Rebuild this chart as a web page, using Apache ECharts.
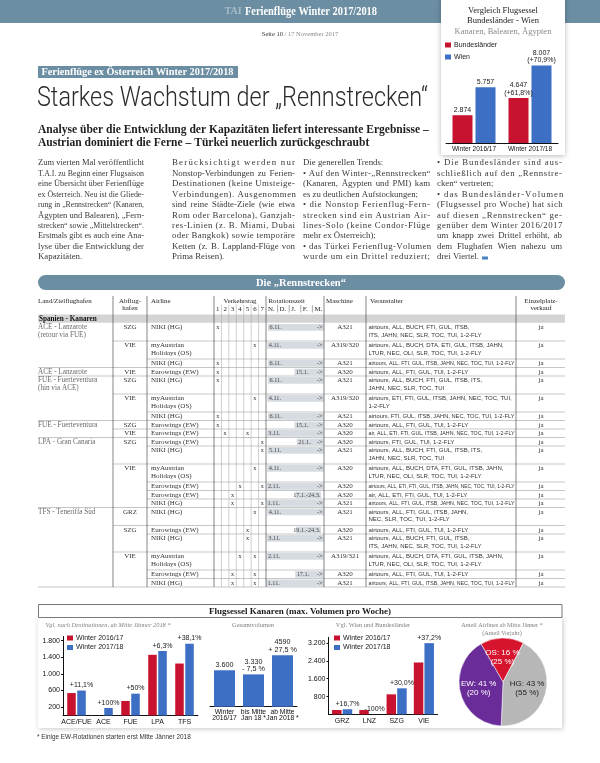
<!DOCTYPE html>
<html><head><meta charset="utf-8">
<script src="https://cdn.jsdelivr.net/npm/echarts@6/dist/echarts.min.js"></script>
<style>html,body{margin:0;padding:0;background:#fff}#c{width:600px;height:763px}</style>
</head><body><div id="c"></div>
<script>
// ================= DATA =================
const headerTitle = 'Ferienflüge Winter 2017/2018';
const headerLogo = 'TAI';
const pageInfo = ['Seite 10', ' / 17 November 2017'];
const kicker = 'Ferienflüge ex Österreich Winter 2017/2018';
const headline = 'Starkes Wachstum der \u201ERennstrecken\u201C';
const subline = ['Analyse über die Entwicklung der Kapazitäten liefert interessante Ergebnisse \u2013',
                 'Austrian dominiert die Ferne \u2013 Türkei neuerlich zurückgeschraubt'];

const col1 = ['Zum vierten Mal veröffentlicht','T.A.I. zu Beginn einer Flugsaison','eine Übersicht über Ferienflüge','ex Österreich. Neu ist die Gliede-','rung in \u201ERennstrecken\u201C (Kanaren,','Ägypten und Balearen), \u201EFern-','strecken\u201C sowie \u201EMittelstrecken\u201C.','Erstmals gibt es auch eine Ana-','lyse über die Entwicklung der','Kapazitäten.'];
const col2 = ['Berücksichtigt werden nur','Nonstop-Verbindungen zu Ferien-','Destinationen (keine Umsteige-','Verbindungen). Ausgenommen','sind reine Städte-Ziele (wie etwa','Rom oder Barcelona), Ganzjah-','res-Linien (z. B. Miami, Dubai','oder Bangkok) sowie temporäre','Ketten (z. B. Lappland-Flüge von','Prima Reisen).'];
const col3 = ['Die generellen Trends:','\u2022 Auf den Winter-\u201ERennstrecken\u201C','(Kanaren, Ägypten und PMI) kam','es zu deutlichen Aufstockungen;','\u2022 die Nonstop Ferienflug-Fern-','strecken sind ein Austrian Air-','lines-Solo (keine Condor-Flüge','mehr ex Österreich);','\u2022 das Türkei Ferienflug-Volumen','wurde um ein Drittel reduziert;'];
const col4 = ['\u2022 Die Bundesländer sind aus-','schließlich auf den \u201ERennstre-','cken\u201C vertreten;','\u2022 das Bundesländer-Volumen','(Flugsessel pro Woche) hat sich','auf diesen \u201ERennstrecken\u201C ge-','genüber dem Winter 2016/2017','um knapp zwei Drittel erhöht, ab','dem Flughafen Wien nahezu um','drei Viertel.'];
const colLast = [[9],[9],[0,3,7],[2,9]];

// top-right comparison chart
const cmpTitle = ['Vergleich Flugsessel', 'Bundesländer - Wien'];
const cmpSubtitle = 'Kanaren, Balearen, Ägypten';
const cmpCategories = ['Winter 2016/17', 'Winter 2017/18'];
const cmpBundeslaender = [2874, 4647];
const cmpWien = [5757, 8007];
const cmpBundesLabels = ['2.874', '4.647\n(+61,8%)'];
const cmpWienLabels = ['5.757', '8.007\n(+70,9%)'];

// table
const tableBanner = 'Die \u201ERennstrecken\u201C';
const tableColumns = ['Land/Zielflughafen', 'Abflug-\nhafen', 'Airline', 'Verkehrstag', 'Rotationszeit', 'Maschine', 'Veranstalter', 'Einzelplatz-\nverkauf'];
const tableDays = ['1','2','3','4','5','6','7'];
const tableMonths = ['N.','D.','J.','F.','M.'];
const tableSection = 'Spanien - Kanaren';
// [land, abflug, airline, days, start, end, maschine, veranstalter, einzelplatz]
const tableRows = [
 ['ACE - Lanzarote\n(retour via FUE)','SZG','NIKI (HG)',[1],'6.11.','','A321','airtours, ALL, BUCH, FTI, GUL, ITSB,\nITS, JAHN, NEC, SLR, TOC, TUI, 1-2-FLY','ja'],
 ['','VIE','myAustrian\nHolidays (OS)',[6],'4.11.','','A319/320','airtours, ALL, BUCH, DTA, ETI, GUL, ITSB, JAHN,\nLTUR, NEC, OLI, SLR, TOC, TUI, 1-2-FLY','ja'],
 ['','','NIKI (HG)',[1],'6.11.','','A321','airtours, ALL, FTI, GUL, ITSB, JAHN, NEC, TOC, TUI, 1-2-FLY','ja'],
 ['ACE - Lanzarote','VIE','Eurowings (EW)',[1],'15.1.','','A320','airtours, ALL, FTI, GUL, TUI, 1-2-FLY','ja'],
 ['FUE - Fuerteventura\n(hin via ACE)','SZG','NIKI (HG)',[1],'6.11.','','A321','airtours, ALL, BUCH, FTI, GUL, ITSB, ITS,\nJAHN, NEC, SLR, TOC, TUI','ja'],
 ['','VIE','myAustrian\nHolidays (OS)',[6],'4.11.','','A319/320','airtours, ETI, FTI, GUL, ITSB, JAHN, NEC, TOC, TUI,\n1-2-FLY','ja'],
 ['','','NIKI (HG)',[1],'6.11.','','A321','airtours, FTI, GUL, ITSB, JAHN, NEC, TOC, TUI, 1-2-FLY','ja'],
 ['FUE - Fuerteventura','SZG','Eurowings (EW)',[1],'15.1.','','A320','airtours, ALL, FTI, GUL, TUI, 1-2-FLY','ja'],
 ['','VIE','Eurowings (EW)',[2,5],'3.11.','','A320','air, ALL, ETI, FTI, GUL, ITSB, JAHN, NEC, TOC, TUI, 1-2-FLY','ja'],
 ['LPA - Gran Canaria','SZG','Eurowings (EW)',[7],'21.1.','','A320','airtours, FTI, GUL, TUI, 1-2-FLY','ja'],
 ['','','NIKI (HG)',[7],'5.11.','','A321','airtours, ALL, BUCH, FTI, GUL, ITSB, ITS,\nJAHN, NEC, SLR, TOC, TUI','ja'],
 ['','VIE','myAustrian\nHolidays (OS)',[6],'4.11.','','A320','airtours, ALL, BUCH, DTA, FTI, GUL, ITSB, JAHN,\nLTUR, NEC, OLI, SLR, TOC, TUI, 1-2-FLY','ja'],
 ['','','Eurowings (EW)',[4,7],'2.11.','','A320','airtours, ALL, ETI, FTI, GUL, ITSB, JAHN, NEC, TOC, TUI, 1-2-FLY','ja'],
 ['','','Eurowings (EW)',[3],'17.1.','24.3.','A320','air, ALL, ETI, FTI, GUL, TUI, 1-2-FLY','ja'],
 ['','','NIKI (HG)',[3,7],'1.11.','','A321','airtours, ALL, FTI, GUL, ITSB, JAHN, NEC, TOC, TUI, 1-2-FLY','ja'],
 ['TFS - Teneriffa Süd','GRZ','NIKI (HG)',[6],'4.11.','','A321','airtours, ALL, FTI, GUL, ITSB, JAHN,\nNEC, SLR, TOC, TUI, 1-2-FLY','ja'],
 ['','SZG','Eurowings (EW)',[5],'19.1.','24.3.','A320','airtours, ALL, FTI, GUL, TUI, 1-2-FLY','ja'],
 ['','','NIKI (HG)',[5],'3.11.','','A321','airtours, ALL, BUCH, FTI, GUL, ITSB,\nITS, JAHN, NEC, SLR, TOC, TUI, 1-2-FLY','ja'],
 ['','VIE','myAustrian\nHolidays (OS)',[4,6],'2.11.','','A319/321','airtours, ALL, BUCH, DTA, FTI, GUL, ITSB, JAHN,\nLTUR, NEC, OLI, SLR, TOC, TUI, 1-2-FLY','ja'],
 ['','','Eurowings (EW)',[3,6],'17.1.','','A320','airtours, ALL, FTI, GUL, TUI, 1-2-FLY','ja'],
 ['','','NIKI (HG)',[3,6],'1.11.','','A321','airtours, ALL, FTI, GUL, ITSB, JAHN, NEC, TOC, TUI, 1-2-FLY','ja']
];

// bottom charts
const bottomTitle = 'Flugsessel Kanaren (max. Volumen pro Woche)';
const footnote = '* Einige EW-Rotationen starten erst Mitte Jänner 2018';
const seriesNames = ['Winter 2016/17', 'Winter 2017/18'];

const destTitle = 'Vgl. nach Destinationen, ab Mitte Jänner 2018 *';
const destCategories = ['ACE/FUE', 'ACE', 'FUE', 'LPA', 'TFS'];
const dest1617 = [540, null, 350, 1460, 1250];
const dest1718 = [600, 180, 525, 1552, 1726];
const destChange = ['+11,1%', '+100%', '+50%', '+6,3%', '+38,1%'];
const destTicks = [200, 600, 1000, 1400, 1800];

const totalTitle = 'Gesamtvolumen';
const totalCategories = ['Winter\n2016/17', 'bis Mitte\nJan 18 *', 'ab Mitte\nJan 2018 *'];
const totalValues = [3600, 3330, 4590];
const totalLabels = ['3.600', '3.330\n- 7,5 %', '4590\n+ 27,5 %'];

const airportTitle = 'Vgl. Wien und Bundesländer';
const airportCategories = ['GRZ', 'LNZ', 'SZG', 'VIE'];
const airport1617 = [198, 195, 900, 2330];
const airport1718 = [231, 0, 1170, 3197];
const airportChange = ['+16,7%', '-100%', '+30,0%', '+37,2%'];
const airportTicks = [800, 1600, 2400, 3200];

const airlineTitle = ['Anteil Airlines ab Mitte Jänner *', '(Anteil Vorjahr)'];
const airlineNames = ['OS', 'HG', 'EW'];
const airlineShare = [16, 43, 41];
const airlinePrev = [25, 55, 20];

// ================= HELPERS =================
const ctx = document.createElement('canvas').getContext('2d');
function mw(t, f) { ctx.font = f; return ctx.measureText(t).width; }
function hasFont(n) {
  const s = 'abcdefghijklmnopqrstuvwxyzABCDEFGHIJ0123456789';
  return mw(s, '20px monospace') !== mw(s, '20px "' + n + '", monospace') ||
         mw(s, '20px serif') !== mw(s, '20px "' + n + '", serif');
}
const SERIF = '"Liberation Serif", "DejaVu Serif", serif';
const SANS = '"Liberation Sans", Arial, sans-serif';
const COND = hasFont('Liberation Sans Narrow') ? '"Liberation Sans Narrow", "Liberation Sans", sans-serif' : SANS;
const LIGHT = hasFont('Roboto') ? 'Roboto, ' + SANS : SANS;
function fit(t, weight, fam, target) { return 20 * target / mw(t, weight + ' 20px ' + fam); }
const fmtDE = v => String(v).replace(/\B(?=(\d{3})+(?!\d))/g, '.');

const STEEL = '#6c8ea3', RED = '#c7132f', BLUE = '#3d6fc4';
const G = [];
function T(x, y, text, font, fill, align, va, z, sx) {
  const el = { type: 'text', x: x, y: y, z: z == null ? 20 : z, silent: true,
    style: { text: text, font: font, fill: fill, textAlign: align || 'left', textVerticalAlign: va || 'middle' } };
  if (sx) el.scaleX = sx;
  G.push(el);
}
function R(x, y, w, h, style, z, r) {
  G.push({ type: 'rect', z: z == null ? 1 : z, silent: true, shape: { x: x, y: y, width: w, height: h, r: r || 0 }, style: style });
}
function L(x1, y1, x2, y2, stroke, lw, z) {
  G.push({ type: 'line', z: z == null ? 5 : z, silent: true, shape: { x1: x1, y1: y1, x2: x2, y2: y2 }, style: { stroke: stroke, lineWidth: lw || 0.5 } });
}
function TW(x, y, text, font, fill, width) { T(x, y, text, font, fill, 'left', 'middle', 20, width / mw(text, font)); }
function TM(x, y, text, font, fill, maxW) { const w = mw(text, font); T(x, y, text, font, fill, 'left', 'middle', 20, w > maxW ? maxW / w : null); }

// ================= PAGE HEADER =================
R(0, 0, 600, 23, { fill: STEEL }, 0);
T(233, 11.5, headerLogo, 'bold 10px ' + SERIF, 'rgba(255,255,255,0.4)', 'center');
{
  TW(245, 11.8, headerTitle, 'bold 12.5px ' + SERIF, '#fff', 132);
  const f1 = '6.5px ' + SERIF;
  const w1 = mw(pageInfo[0], f1), w2 = mw(pageInfo[1], f1);
  const sx = 300 - (w1 + w2) / 2;
  T(sx, 34, pageInfo[0], f1, '#333');
  T(sx + w1, 34, pageInfo[1], f1, '#888');
}

// top-right box
R(441, -3, 124, 158, { fill: '#fff', shadowBlur: 5, shadowColor: 'rgba(0,0,0,0.28)', shadowOffsetY: 1 }, 1);
T(503, 11, cmpTitle[0], '8.5px ' + SERIF, '#222', 'center');
T(503, 21, cmpTitle[1], '8.5px ' + SERIF, '#222', 'center');
T(503, 32, cmpSubtitle, '8.5px ' + SERIF, '#8a8a8a', 'center');

// kicker + headline + subline
{
  R(38, 66, 200, 12, { fill: STEEL }, 1);
  TW(41.5, 72.3, kicker, 'bold 9.5px ' + SERIF, '#fff', 192);
  TW(37, 99, headline, '300 27px ' + LIGHT, '#2b2b2b', 391);
  const fsub = fit(subline[0], 'bold', SERIF, 391);
  T(38, 130, subline[0], 'bold ' + fsub.toFixed(2) + 'px ' + SERIF, '#1e1e1e');
  T(38, 143, subline[1], 'bold ' + fsub.toFixed(2) + 'px ' + SERIF, '#1e1e1e');
}

// article columns (justified; loose lines get letter spacing, tight lines are squeezed)
{
  const cols = [col1, col2, col3, col4];
  const cx = [38, 172, 303, 437];
  const cw = [106, 123, 127, 125];
  const font = '8.8px ' + SERIF;
  const spaceW = mw(' ', font);
  const C = '#3a3a3a';
  cols.forEach((c, ci) => {
    c.forEach((ln, i) => {
      const y = 163 + i * 10.45;
      const W = mw(ln, font);
      const words = ln.split(' ');
      const last = colLast[ci].includes(i);
      if (W > cw[ci]) {
        if (last) TM(cx[ci], y, ln, font, C, cw[ci]); else TW(cx[ci], y, ln, font, C, cw[ci]);
        return;
      }
      if (last || words.length < 2) { T(cx[ci], y, ln, font, C); return; }
      const ws = words.map(w => mw(w, font));
      const tot = ws.reduce((a, b) => a + b, 0);
      let gap = (cw[ci] - tot) / (words.length - 1);
      if (gap > 2.2 * spaceW) {
        // spread the extra room over letters too
        const chars = Array.from(ln);
        const extra = cw[ci] - W;
        const ls = extra / (chars.length - 1);
        let x = cx[ci];
        chars.forEach(ch => { if (ch !== ' ') T(x, y, ch, font, C); x += mw(ch, font) + ls; });
        return;
      }
      let x = cx[ci];
      words.forEach((w, j) => { T(x, y, w, font, C); x += ws[j] + gap; });
    });
  });
  const endW = Math.min(mw(col4[9], font), 125);
  R(437 + endW + 3, 256.5, 6, 3, { fill: '#4a7fc0' }, 2);
}

// ================= TABLE =================
const CX = { land: 38, abflug: 113, airline: 147, days: 214, rot: 266, masch: 324, veran: 366, einz: 516, right: 565 };
const dayW = (CX.rot - CX.days) / 7;
const monW = (CX.masch - CX.rot) / 5;
function dateX(s) {
  const p = s.split('.').map(Number);
  const idx = { 11: 0, 12: 1, 1: 2, 2: 3, 3: 4 }[p[1]];
  const dim = [30, 31, 31, 28, 31][idx];
  return CX.rot + (idx + (p[0] - 1) / dim) * monW;
}
R(38, 275, 527, 15, { fill: STEEL }, 1, 7.5);
T(301, 282.8, tableBanner, 'bold 10.5px ' + SERIF, '#fff', 'center');
{
  const hf = '6.9px ' + SERIF, hc = '#1e1e1e';
  const twoLine = (x, t, al) => { const p = t.split('\n'); T(x, 301, p[0], hf, hc, al); if (p[1]) T(x, 308, p[1], hf, hc, al); };
  twoLine(38, tableColumns[0], 'left');
  twoLine(130, tableColumns[1], 'center');
  twoLine(151, tableColumns[2], 'left');
  twoLine(240, tableColumns[3], 'center');
  twoLine(268.5, tableColumns[4], 'left');
  twoLine(326, tableColumns[5], 'left');
  twoLine(370, tableColumns[6], 'left');
  twoLine(541, tableColumns[7], 'center');
  tableDays.forEach((d, k) => T(CX.days + dayW * (k + 0.5), 308.8, d, hf, hc, 'center'));
  tableMonths.forEach((m, k) => T(CX.rot + monW * k + 2, 308.8, m, hf, hc));
  for (let k = 1; k < 5; k++) L(CX.rot + monW * k, 305, CX.rot + monW * k, 312.5, '#555', 0.5);
}
R(38, 314.5, 527, 8.2, { fill: '#d4d4d4' }, 1);
T(39, 318.7, tableSection, 'bold 7.2px ' + SERIF, '#111');
{
  const f = '7px ' + SERIF;
  const vfs = 10 * 101 / mw('airtours, ALL, BUCH, FTI, GUL, ITSB,', '10px ' + COND);
  const vf = vfs.toFixed(2) + 'px ' + COND;
  let y = 323;
  tableRows.forEach((r, i) => {
    const land = r[0], abflug = r[1], airline = r[2], days = r[3], start = r[4], end = r[5], masch = r[6], veran = r[7], einz = r[8];
    const n = Math.max(land.split('\n').length, airline.split('\n').length, veran.split('\n').length);
    const h = n > 1 ? 18 : 8.5;
    const ly = [y + 4.4, y + 12];
    land.split('\n').forEach((t, k) => TM(38, ly[k], t, '7.2px ' + SERIF, '#6a6a6a', 73));
    if (abflug) T(130, ly[0], abflug, f, '#333', 'center');
    airline.split('\n').forEach((t, k) => TM(151, ly[k], t, f, '#333', 61));
    days.forEach(d => T(CX.days + dayW * (d - 0.5), ly[0], 'x', '6.2px ' + SERIF, '#333', 'center'));
    const bx = dateX(start), ex = end ? dateX(end) : CX.masch;
    R(bx, y + 1.1, ex - bx, 6.6, { fill: '#d5dbe1' }, 2);
    if (end) {
      T(ex - 0.5, ly[0], start + '-' + end, '6.3px ' + SERIF, '#444', 'right');
    } else {
      T(bx + 1.5, ly[0], start, '6.3px ' + SERIF, '#444');
      T(CX.masch - 1.5, ly[0], '->', '6.3px ' + SERIF, '#444', 'right');
    }
    T(345, ly[0], masch, f, '#333', 'center');
    veran.split('\n').forEach((t, k) => TM(368.5, ly[k], t, vf, '#333', 146));
    T(541, ly[0], einz, f, '#333', 'center');
    y += h;
    const nx = tableRows[i + 1];
    const lx = !nx || nx[0] ? CX.land : (nx[1] ? CX.abflug : CX.airline);
    L(lx, y, CX.right, y, '#8c8c8c', 0.5);
  });
  const yEnd = y;
  [CX.abflug, CX.airline, CX.days, CX.rot, CX.masch, CX.veran, CX.einz].forEach(x => L(x, 296, x, yEnd, '#333', 0.6, 6));
  for (let k = 1; k < 7; k++) L(CX.days + dayW * k, 304.5, CX.days + dayW * k, yEnd, '#a0a0a0', 0.5, 6);
}

// ================= BOTTOM BLOCK =================
R(38, 617, 524, 111, { fill: '#fff', shadowBlur: 5, shadowColor: 'rgba(0,0,0,0.22)', shadowOffsetX: 1, shadowOffsetY: 1 }, 0);
R(38.5, 604.5, 523.5, 13, { fill: '#fff', stroke: '#555', lineWidth: 0.8 }, 1);
T(300, 611.2, bottomTitle, 'bold 9px ' + SERIF, '#1a1a1a', 'center');
T(108, 625, destTitle, 'italic 6.4px ' + SERIF, '#808080', 'center');
T(253, 625, totalTitle, '6.4px ' + SERIF, '#808080', 'center');
T(373, 625, airportTitle, '6.4px ' + SERIF, '#808080', 'center');
T(502, 625, airlineTitle[0], '6.2px ' + SERIF, '#808080', 'center');
T(502, 633, airlineTitle[1], '6.2px ' + SERIF, '#808080', 'center');
T(37, 737, footnote, '6.4px ' + COND, '#333');

// ================= CHART OPTION =================
const lab = (arr, extra) => Object.assign({ show: true, position: 'top', distance: 1.5, fontSize: 7, lineHeight: 7.5,
  color: '#1a1a1a', fontFamily: COND, formatter: p => arr[p.dataIndex] }, extra || {});
const catAxis = (gi, data, extra) => Object.assign({ type: 'category', gridIndex: gi, data: data, z: 6,
  axisLine: { show: true, lineStyle: { color: '#111', width: 1 } }, axisTick: { show: false },
  axisLabel: { fontSize: 7, color: '#111', margin: 3, interval: 0, fontFamily: COND, lineHeight: 6.8 } }, extra || {});
const valAxis = (gi, max, ticks) => ({ type: 'value', gridIndex: gi, min: 0, max: max, z: 6, splitLine: { show: false },
  axisLine: { show: true, lineStyle: { color: '#111', width: 1 } },
  axisTick: { show: true, length: 2, customValues: ticks, lineStyle: { color: '#111' } },
  axisLabel: { customValues: ticks, fontSize: 7, color: '#111', margin: 3, fontFamily: COND, formatter: fmtDE } });
const legendStyle = { orient: 'vertical', padding: 0, icon: 'rect', itemWidth: 6, itemHeight: 5, selectedMode: false, z: 8,
  textStyle: { fontSize: 7, color: '#1a1a1a', fontFamily: COND, padding: [0, 0, 0, -2] } };
const PIE_COLORS = ['#d6142d', '#b7b7b7', '#6a2c99'];
const PIE_TEXT = ['#fff', '#222', '#fff'];

const option = {
  animation: false,
  textStyle: { fontFamily: COND },
  graphic: { elements: G },
  legend: [
    Object.assign({ data: ['Bundesländer', 'Wien'], left: 445, top: 41.5, itemGap: 5 }, legendStyle),
    Object.assign({ data: seriesNames, left: 67, top: 634.5, itemGap: 2.5 }, legendStyle),
    Object.assign({ data: seriesNames, left: 334, top: 634.5, itemGap: 2.5 }, legendStyle)
  ],
  grid: [
    { left: 446, top: 56, width: 112, height: 87, containLabel: false, outerBoundsMode: 'none' },
    { left: 63, top: 636.5, width: 135, height: 79, containLabel: false, outerBoundsMode: 'none' },
    { left: 210, top: 646, width: 87, height: 60.7, containLabel: false, outerBoundsMode: 'none' },
    { left: 328.5, top: 637.3, width: 109, height: 77.1, containLabel: false, outerBoundsMode: 'none' }
  ],
  xAxis: [
    catAxis(0, cmpCategories, { axisLabel: { fontSize: 6.5, color: '#111', margin: 3, interval: 0, fontFamily: COND } }),
    catAxis(1, destCategories),
    catAxis(2, totalCategories, { axisLabel: { fontSize: 6.8, color: '#111', margin: 2, interval: 0, fontFamily: COND, lineHeight: 6.6 } }),
    catAxis(3, airportCategories)
  ],
  yAxis: [
    { type: 'value', gridIndex: 0, min: 0, max: 9000, show: false },
    valAxis(1, 1900, destTicks),
    { type: 'value', gridIndex: 2, min: 1200, max: 5200, show: false },
    valAxis(3, 3460, airportTicks)
  ],
  series: [
    { name: 'Bundesländer', type: 'bar', z: 7, xAxisIndex: 0, yAxisIndex: 0, data: cmpBundeslaender, barWidth: 20, barGap: '15%', itemStyle: { color: RED }, label: lab(cmpBundesLabels) },
    { name: 'Wien', type: 'bar', z: 7, xAxisIndex: 0, yAxisIndex: 0, data: cmpWien, barWidth: 20, barGap: '15%', itemStyle: { color: BLUE }, label: lab(cmpWienLabels) },
    { name: seriesNames[0], type: 'bar', z: 7, xAxisIndex: 1, yAxisIndex: 1, data: dest1617, barWidth: 8.5, barGap: '18%', itemStyle: { color: RED } },
    { name: seriesNames[1], type: 'bar', z: 7, xAxisIndex: 1, yAxisIndex: 1, data: dest1718, barWidth: 8.5, barGap: '18%', itemStyle: { color: BLUE }, label: lab(destChange) },
    { name: totalTitle, type: 'bar', z: 7, xAxisIndex: 2, yAxisIndex: 2, data: totalValues, barWidth: 21, itemStyle: { color: BLUE }, label: lab(totalLabels, { fontSize: 7.2 }) },
    { name: seriesNames[0], type: 'bar', z: 7, xAxisIndex: 3, yAxisIndex: 3, data: airport1617, barWidth: 9.5, barGap: '12%', itemStyle: { color: RED } },
    { name: seriesNames[1], type: 'bar', z: 7, xAxisIndex: 3, yAxisIndex: 3, data: airport1718, barWidth: 9.5, barGap: '12%', itemStyle: { color: BLUE }, label: lab(airportChange) },
    { type: 'pie', z: 7, center: [503, 682], radius: 44, startAngle: 120, clockwise: true, silent: true,
      itemStyle: { borderColor: '#fff', borderWidth: 0.5 }, labelLine: { show: false },
      label: { show: true, position: 'inside', fontSize: 8, lineHeight: 9, fontFamily: COND,
        formatter: p => p.name + ': ' + airlineShare[p.dataIndex] + ' %\n(' + airlinePrev[p.dataIndex] + ' %)' },
      data: airlineNames.map((n, i) => ({ name: n, value: airlineShare[i], itemStyle: { color: PIE_COLORS[i] }, label: { color: PIE_TEXT[i] } })) }
  ]
};
const chart = echarts.init(document.getElementById('c'), null, { renderer: 'canvas', width: 600, height: 763 });
chart.setOption(option);
</script></body></html>
